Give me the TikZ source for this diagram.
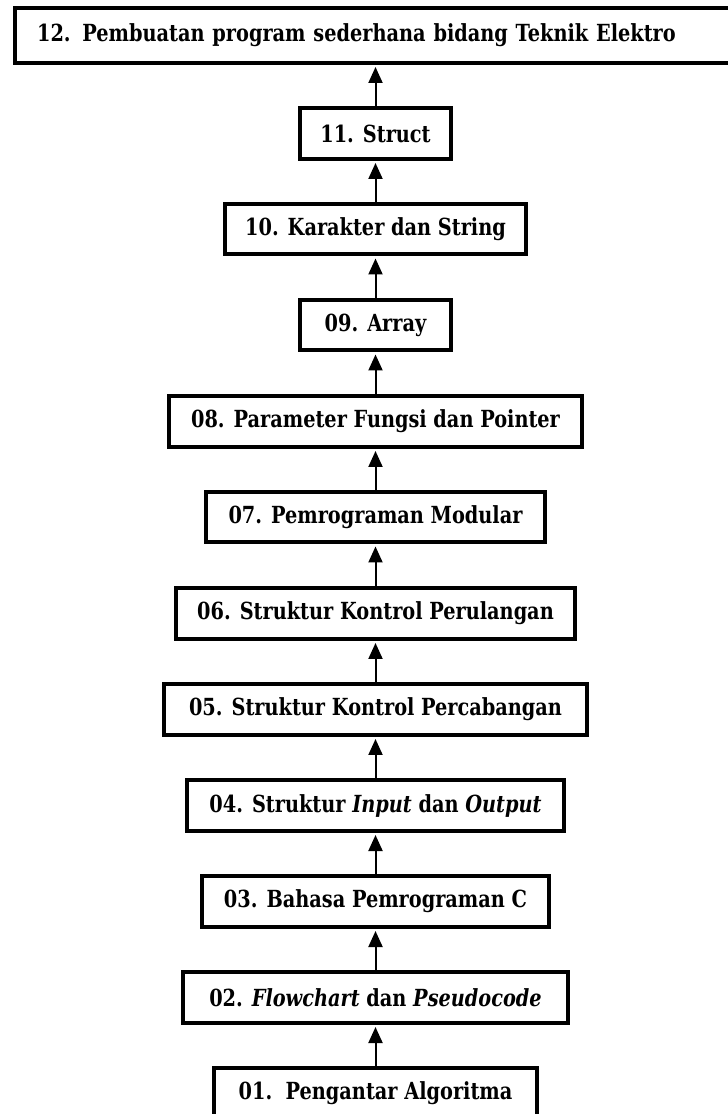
\documentclass[tikz,border=0pt]{standalone}
\usepackage{fontspec}
\setmainfont{DejaVu Serif}[FakeStretch=0.82]
\usetikzlibrary{arrows.meta}
\begin{document}
\begin{tikzpicture}[x=0.02cm, y=-0.02cm,
    box/.style={draw, line width=0.08cm, minimum height=1.02cm, inner sep=0pt,
      font=\fontsize{13.4}{15}\selectfont\bfseries},
    arr/.style={-{Triangle[length=0.32cm, width=0.28cm]}, line width=0.04cm, shorten >=0.04cm}]
  \useasboundingbox (0,0) rectangle (727,1114);
  \node[box, minimum width=14.51cm, minimum height=1.1cm, text width=13.61cm,
    inner xsep=0.45cm, align=left] (n12) at (377.25,35.5)
    {12. Pembuatan program sederhana bidang Teknik Elektro};
  \node[box, minimum width=3.01cm] (n11) at (375.5,133.5) {11. Struct};
  \node[box, minimum width=6.03cm] (n10) at (375.5,229) {10. Karakter dan String};
  \node[box, minimum width=3.01cm] (n09) at (375.5,325) {09. Array};
  \node[box, minimum width=8.28cm] (n08) at (375.5,421.5) {08. Parameter Fungsi dan Pointer};
  \node[box, minimum width=6.80cm] (n07) at (375.5,517) {07. Pemrograman Modular};
  \node[box, minimum width=8.00cm] (n06) at (375.5,613.5) {06. Struktur Kontrol Perulangan};
  \node[box, minimum width=8.46cm] (n05) at (375.5,709.5) {05. Struktur Kontrol Percabangan};
  \node[box, minimum width=7.54cm] (n04) at (375.5,805.5) {04. Struktur \textit{Input} dan \textit{Output}};
  \node[box, minimum width=6.94cm] (n03) at (375.5,901.5) {03. Bahasa Pemrograman C};
  \node[box, minimum width=7.70cm] (n02) at (375.5,997.5) {02. \textit{Flowchart} dan \textit{Pseudocode}};
  \node[box, minimum width=6.48cm] (n01) at (375.5,1093) {01.\ \ Pengantar Algoritma};
  \draw[arr] (n01) -- (n02);
  \draw[arr] (n02) -- (n03);
  \draw[arr] (n03) -- (n04);
  \draw[arr] (n04) -- (n05);
  \draw[arr] (n05) -- (n06);
  \draw[arr] (n06) -- (n07);
  \draw[arr] (n07) -- (n08);
  \draw[arr] (n08) -- (n09);
  \draw[arr] (n09) -- (n10);
  \draw[arr] (n10) -- (n11);
  \draw[arr] (n11) -- (n11 |- n12.south);
\end{tikzpicture}
\end{document}
